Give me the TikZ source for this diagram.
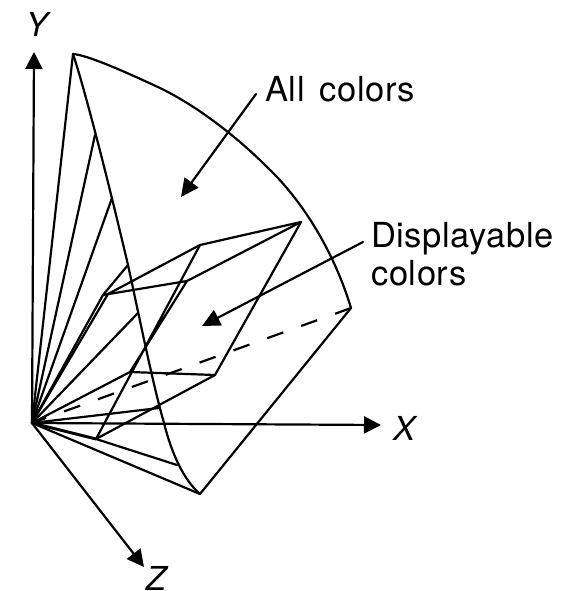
\documentclass[tikz,border=0pt]{standalone}
\usepackage{fontspec}
\setmainfont{TeX Gyre Heros}
\newfontfamily\labfont[LetterSpace=1.7,WordSpace=1.5]{TeX Gyre Heros}
\usetikzlibrary{arrows.meta}
\tikzset{
  edge/.style={line width=2.2pt,line cap=round,line join=round},
  axis/.style={edge,-{Triangle[length=17pt,width=17pt]}},
  pointer/.style={edge,-{Triangle[length=18pt,width=17pt]}},
  lab/.style={inner sep=0pt,font=\labfont\fontsize{34.5}{38}\selectfont,align=left,anchor=west},
  axlab/.style={inner sep=0pt,font=\fontsize{33}{39}\selectfont\itshape}
}
\begin{document}
\begin{tikzpicture}[x=1pt,y=-1pt]
\useasboundingbox (0,0) rectangle (568,591);
\coordinate (O) at (32,423);
\coordinate (Ytip) at (34,52);
\coordinate (Xtip) at (381,425);
\coordinate (Ztip) at (144,567);
\coordinate (A) at (73,54);
\coordinate (R) at (351,308);
\coordinate (B) at (200,494);
\coordinate (c1) at (95,135);
\coordinate (c2) at (112,198);
\coordinate (c3) at (128,265);
\coordinate (c4) at (138,313);
\coordinate (c5) at (159,408);
\coordinate (c6) at (177,465);
\coordinate (d1) at (103,295);
\coordinate (d2) at (108,294);
\coordinate (d3) at (187,281);
\coordinate (d4) at (200,245);
\coordinate (d5) at (301,222);
\coordinate (d6) at (215,375);
\coordinate (d7) at (130,372);
\coordinate (d8) at (96,439);
\coordinate (p1s) at (256,94);
\coordinate (p1e) at (181,197);
\coordinate (p2s) at (363,242);
\coordinate (p2e) at (202,326);
% axes
\draw[axis] (O) -- (Ytip);
\draw[axis] (O) -- (Xtip);
\draw[axis] (O) -- (Ztip);
\node[axlab] (ly) at (37,24) {Y};
\node[axlab] (lx) at (404,428) {X};
\node[axlab] (lz) at (156,578) {Z};
% outer solid
\draw[edge] (A) .. controls (88,55) and (130,74) .. (160,88)
  .. controls (197,106) and (236,136) .. (267,167)
  .. controls (305,203) and (335,255) .. (R) -- (B);
\draw[edge] (A) .. controls (85,90) and (108,180) .. (128,265)
  .. controls (140,320) and (153,385) .. (164,423)
  .. controls (172,455) and (184,480) .. (B);
\foreach \t in {A,c1,c2,c4,c5,B,d1,d2,d7}
  \draw[edge] (O) -- (\t);
\draw[edge,line width=3pt] (O) -- (d8);
% displayable
\draw[edge] (c3) -- (d1) -- (d3) -- (d7) -- (d6) -- (d8) -- (d4) -- (d5) -- (d6);
\draw[edge] (d4) -- (d2);
\draw[edge] (d3) -- (d5);
\draw[edge] (d8) -- (c6);
% dashed
\draw[edge,line cap=butt,dash pattern=on 17pt off 19pt] (R) -- (O);
% pointers
\draw[pointer] (p1s) -- (p1e);
\draw[pointer] (p2s) -- (p2e);
\node[lab] (all) at (265,89) {All colors};
\node[lab] (disp) at (371,254) {Displayable\\colors};
\end{tikzpicture}
\end{document}
